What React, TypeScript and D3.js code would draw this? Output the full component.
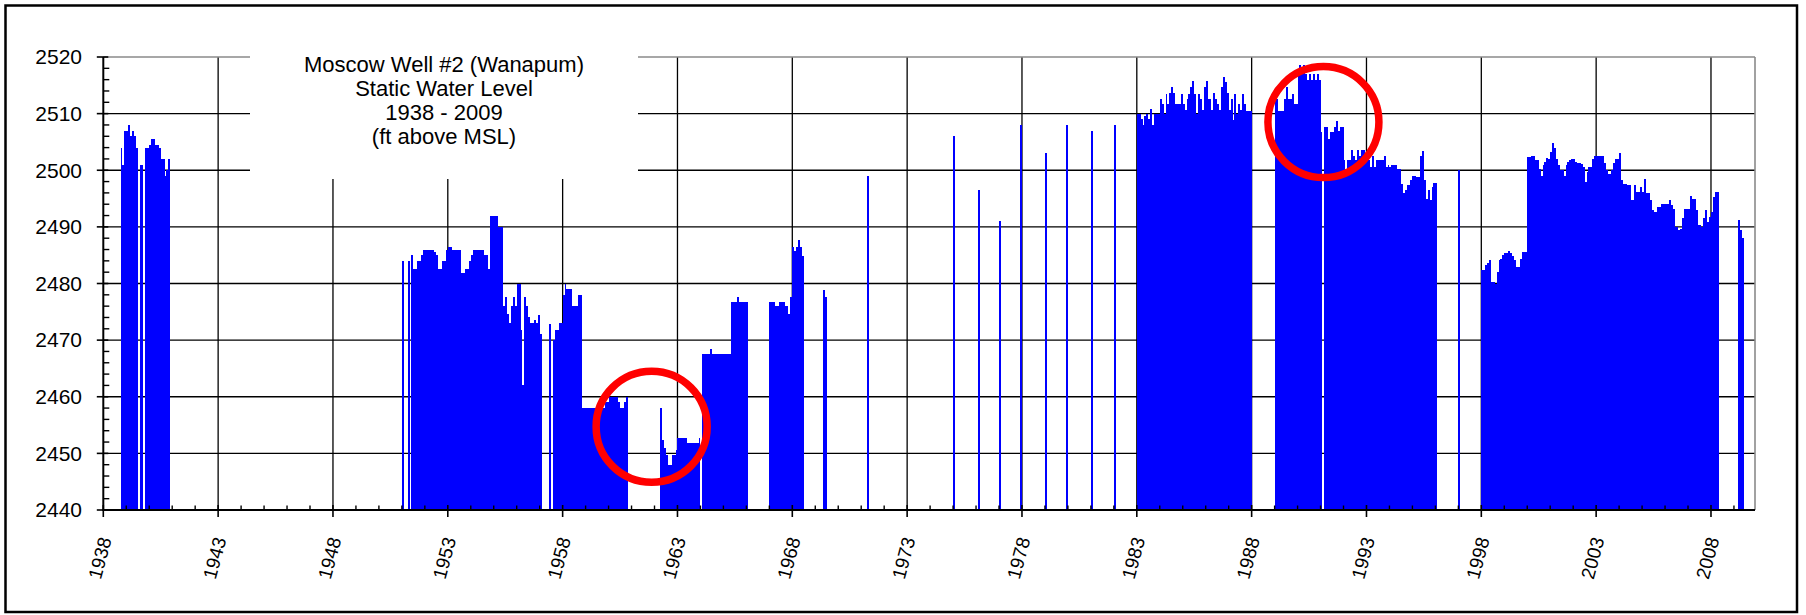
import React from "react";
import * as d3 from "d3";

// Moscow Well #2 (Wanapum) monthly static water level, ft above MSL.
// Each run starts at the month given next to it; null = no reading that month.
const levels1938Start = "1938-10";
const levels1938 = [2504, 2501, 2507, 2507, 2508, 2506, 2507, 2506, 2504, null, 2501, 2501, null,
  2504, 2504, 2504.5, 2505.5, 2505.5, 2504.5, 2504.5, 2504, 2502, 2502, 2499, 2500, 2502];

const levels1951Start = "1951-01";
const levels1951 = [2484, null, null, 2484, null,
  2485, 2482.6, 2482.6, 2484, 2484, 2485, 2486, 2486, 2486, 2486, 2486, 2486, 2485.5, 2485, 2482.6,
  2482.6, 2484, 2484, 2486, 2486.5, 2486.5, 2486, 2486, 2486, 2486, 2486, 2481.8, 2481.8, 2482.6,
  2482.6, 2484, 2485, 2486, 2486, 2486, 2486, 2486, 2486, 2485, 2485, 2482.6, 2492, 2492, 2492,
  2492, 2490, 2490, 2490, 2476, 2477.6, 2474.7, 2473, 2476, 2477.6, 2476, 2480, 2480, 2471.8, 2462,
  2477.6, 2476, 2474, 2473, 2473, 2473.5, 2473, 2474.4, 2471, null, null, null, null, 2472.8, null,
  2470, 2471.8, 2471.8, 2473, 2473, 2478, 2480, 2479, 2479, 2479, 2476, 2476, 2476, 2478, 2478,
  2458, 2458, 2458, 2458, 2458, 2458, 2458, 2458, 2458, 2458, 2458, 2458,
  2459, 2459, 2460, 2460, 2460, 2460, 2460, 2459, 2458, 2458, 2459, 2460];

const levels1962Start = "1962-04";
const levels1962 = [2458, 2452.4, 2451, 2449.7, 2448, 2448, 2449.7, 2449.7, 2450.6,
  2452.8, 2452.8, 2452.8, 2452.8, 2452.8, 2451.8, 2451.8, 2451.8, 2451.8, 2451.8, 2451.8, 2452.8,
  null, 2467.6, 2467.6, 2467.6, 2467.6, 2468.5, 2467.6, 2467.6, 2467.6, 2467.6, 2467.6, 2467.6,
  2467.6, 2467.6, 2467.6, 2467.6, 2476.8, 2476.8, 2476.8, 2477.6, 2476.8, 2476.8, 2476.8, 2476.8,
  2476.8];

const levels1967Start = "1967-01";
const levels1967 = [2476.8, 2476.8, 2476.8, 2476, 2476, 2476.8, 2476.8, 2476.8, 2476, 2476,
  2474.7, 2477.6, 2486.5, 2485.8, 2486.5, 2487.6, 2486.5, 2484.8];

const levels1969Start = "1969-05";
const levels1969 = [2478.8, 2477.6];

// single readings between the long records
const spotDates = ["1971-04", "1975-01", "1976-02", "1977-01", "1977-12", "1979-01", "1979-12",
  "1981-01", "1982-01", "1997-01"];
const spotLevels = [2499, 2506, 2496.5, 2491, 2508, 2503, 2508, 2507, 2508, 2500];

const levels1983Start = "1983-01";
const levels1983 = [2510, 2510, 2509, 2508, 2509.5, 2510, 2509, 2510.8, 2508, 2510,
  2510, 2510, 2512.5, 2511.7, 2510, 2513.5, 2511.7, 2513.7, 2514.7, 2513.7,
  2511.7, 2511.7, 2511.7, 2513.5, 2511.7, 2510.6, 2512.5, 2513.5, 2514.7, 2515.8,
  2513.5, 2510, 2513.5, 2512.5, 2510.6, 2514.7, 2515.8, 2512.5, 2512.5, 2510.6,
  2513.7, 2512.5, 2511.7, 2510.6, 2514.7, 2516.5, 2515.6, 2513.7, 2510.6, 2512.5,
  2508.8, 2513.5, 2510, 2511.7, 2510.6, 2513.5, 2511.7, 2510.5, 2510.5, 2510.5];

const levels1989Start = "1989-01";
const levels1989 = [2512.5, 2512.5, 2510.5, 2510.5, 2510.5, 2512.5, 2514.7, 2512.5, 2512.5, 2513.5,
  2511.7, 2511.7, 2517, 2518.5, 2517, 2518.5, 2517, 2516, 2517, 2516,
  2517, 2516, 2517, 2516, 2506.8, null, 2507.6, 2507.6, 2505.6, 2506.8,
  2506.8, 2507.6, 2508.7, 2507, 2507.6, 2507.6, 2501.8, 2500, 2501.8, 2501.8,
  2503.5, 2502.6, 2501.8, 2503.5, 2502.6, 2503.5, 2503.5, 2502.6, 2501.8, 2501.8,
  2500.6, 2502.6, 2500.6, 2501.8, 2501.8, 2501.8, 2501.8, 2502.6, 2500.6, 2501,
  2500.6, 2501, 2501, 2501, 2500.3, 2500.3, 2497.6, 2495.9, 2496.5, 2497.4,
  2497.4, 2498.2, 2499, 2499, 2498.8, 2498.8, 2502.6, 2503.4, 2498.2, 2495,
  2496.5, 2494.7, 2497, 2497.8, 2497.8];

const levels1998Start = "1998-01";
const levels1998 = [2482.4, 2482.4, 2483.2, 2483.6, 2484.1, 2480.3, 2480.3, 2480, 2482, 2484.1,
  2484.4, 2485, 2485.3, 2485.3, 2485.8, 2485.3, 2484.8, 2484.2, 2483, 2483,
  2484.4, 2485.5, 2485.5, 2485.5, 2502.4, 2502.4, 2502.6, 2502.6, 2501.8, 2501.8,
  2500.3, 2499, 2501, 2501.5, 2502.2, 2502, 2503.2, 2504.8, 2504, 2502,
  2500.9, 2500, 2500, 2499, 2501, 2501.5, 2501.8, 2502, 2501.9, 2501.5,
  2501.3, 2501.2, 2501.1, 2500.6, 2498, 2499.7, 2500.6, 2500.6, 2502, 2502.6,
  2502.6, 2502.6, 2502.6, 2502.6, 2501.2, 2500, 2499.4, 2499.4, 2500, 2501.2,
  2502, 2502, 2503, 2498.2, 2497.6, 2497.6, 2497.4, 2497.4, 2494.7, 2494.7,
  2497.4, 2496.2, 2496.2, 2497, 2496.2, 2498.5, 2496, 2496, 2494.7, 2493,
  2492.6, 2492.6, 2493.5, 2493.5, 2494, 2494, 2494, 2494, 2494.7, 2493.8,
  2493.2, 2490, 2490, 2489.5, 2489.7, 2491.5, 2493.2, 2493.2, 2493.2, 2495.4,
  2495, 2495, 2493, 2490.3, 2490.3, 2490, 2491.5, 2493, 2490.9, 2491.8,
  2492.6, 2495.3, 2496.1, 2496.1];

const levels2009Start = "2009-03";
const levels2009 = [2491.2, 2489.5, 2488];

// red rings drawn on the chart (centre month, centre level)
const ringDates = ["1961-11", "1991-02"];
const ringLevels = [2454.7, 2508.5];

const yTicks = [2440, 2450, 2460, 2470, 2480, 2490, 2500, 2510, 2520];
const yearLabels = ["1938", "1943", "1948", "1953", "1958", "1963", "1968", "1973", "1978", "1983",
  "1988", "1993", "1998", "2003", "2008"];
const titleLines = ["Moscow Well #2 (Wanapum)", "Static Water Level", "1938 - 2009", "(ft above MSL)"];

const W = 1806, H = 615;
const FONT = "'Liberation Sans', Arial, Helvetica, sans-serif";

function monthIndex(s: string) {
  const [yr, mo] = s.split("-").map(Number);
  return (yr - 1938) * 12 + (mo - 1);
}

const runs = [
  [levels1938Start, levels1938],
  [levels1951Start, levels1951],
  [levels1962Start, levels1962],
  [levels1967Start, levels1967],
  [levels1969Start, levels1969],
  [levels1983Start, levels1983],
  [levels1989Start, levels1989],
  [levels1998Start, levels1998],
  [levels2009Start, levels2009],
] as [string, (number | null)[]][];

const bars: { k: number; v: number }[] = [];
runs.forEach(([start, vals]) => {
  const k0 = monthIndex(start);
  vals.forEach((v, i) => { if (v != null) bars.push({ k: k0 + i, v }); });
});
spotDates.forEach((d, i) => bars.push({ k: monthIndex(d), v: spotLevels[i] }));

export default function App() {
  const margin = { left: 103.3, right: 1755, top: 57, bottom: 510 };
  // month index since Jan 1938 -> px (last slot is Nov 2009)
  const x = d3.scaleLinear().domain([0, 863]).range([margin.left, margin.right]);
  const y = d3.scaleLinear().domain([2440, 2520]).range([margin.bottom, margin.top]);
  const yearX = (yr: number) => x((yr - 1938) * 12);

  const minorY = d3.range(2442, 2520, 2).filter((v) => v % 10 !== 0);
  const minorYears = d3.range(1939, 2010).filter((yr) => (yr - 1938) % 5 !== 0);

  return (
    <svg width={W} height={H} style={{ position: "absolute", left: 0, top: 0, background: "#fff" }}
      fontFamily={FONT}>
      <rect x={0} y={0} width={W} height={H} fill="#fff" />

      {/* gridlines */}
      {yTicks.slice(1, -1).map((t) => (
        <line key={"gy" + t} x1={margin.left} x2={margin.right} y1={y(t)} y2={y(t)}
          stroke="#000" strokeWidth={1.3} />
      ))}
      {yearLabels.slice(1).map((lab) => (
        <line key={"gx" + lab} x1={yearX(+lab)} x2={yearX(+lab)} y1={margin.top} y2={margin.bottom}
          stroke="#000" strokeWidth={1.3} />
      ))}
      {/* plot area border (top / right) */}
      <line x1={margin.left} x2={margin.right} y1={margin.top} y2={margin.top} stroke="#8a8a8a" strokeWidth={1.6} />
      <line x1={margin.right} x2={margin.right} y1={margin.top} y2={margin.bottom} stroke="#8a8a8a" strokeWidth={1.6} />

      {/* title box hides the grid behind the title */}
      <rect x={250} y={44} width={388} height={135} fill="#fff" />

      {/* bars */}
      <g fill="#0000ff" shapeRendering="crispEdges">
        {bars.map((b) => (
          <rect key={b.k} x={x(b.k)} width={x(b.k + 1) - x(b.k)} y={y(b.v)} height={y(2440) - y(b.v)} />
        ))}
      </g>

      {/* axes */}
      <line x1={margin.left} x2={margin.left} y1={margin.top} y2={margin.bottom + 1} stroke="#000" strokeWidth={2} />
      <line x1={margin.left - 1} x2={margin.right} y1={margin.bottom} y2={margin.bottom} stroke="#000" strokeWidth={2} />
      {yTicks.map((t) => (
        <line key={"ty" + t} x1={margin.left - 6.5} x2={margin.left + 5} y1={y(t)} y2={y(t)} stroke="#000" strokeWidth={1.6} />
      ))}
      {minorY.map((t) => (
        <line key={"my" + t} x1={margin.left} x2={margin.left + 6} y1={y(t)} y2={y(t)} stroke="#000" strokeWidth={1.4} />
      ))}
      {yearLabels.map((lab) => (
        <line key={"tx" + lab} x1={yearX(+lab)} x2={yearX(+lab)} y1={margin.bottom - 5} y2={margin.bottom + 7}
          stroke="#000" strokeWidth={1.6} />
      ))}
      {minorYears.map((yr) => (
        <line key={"mx" + yr} x1={yearX(yr)} x2={yearX(yr)} y1={margin.bottom - 4.5} y2={margin.bottom}
          stroke="#000" strokeWidth={1.4} />
      ))}

      {/* tick labels */}
      {yTicks.map((t) => (
        <text key={"ly" + t} x={82} y={y(t)} dy="0.35em" textAnchor="end" fontSize={21} fill="#000">{t}</text>
      ))}
      {yearLabels.map((lab) => (
        <text key={"lx" + lab} transform={`translate(${yearX(+lab) - 3.5},558) rotate(-75)`}
          dy="0.35em" textAnchor="middle" fontSize={19} fill="#000">{lab}</text>
      ))}

      {/* title */}
      {titleLines.map((line, i) => (
        <text key={"t" + i} x={444} y={72 + i * 24} textAnchor="middle" fontSize={22} fill="#000">{line}</text>
      ))}

      {/* red rings */}
      {ringDates.map((d, i) => (
        <circle key={"r" + d} cx={x(monthIndex(d) + 0.5)} cy={y(ringLevels[i])} r={55.5}
          fill="none" stroke="#ff0000" strokeWidth={7.5} />
      ))}

      {/* chart border */}
      <rect x={5.5} y={5.5} width={1791.5} height={606.5} fill="none" stroke="#000" strokeWidth={2.5} />
    </svg>
  );
}
